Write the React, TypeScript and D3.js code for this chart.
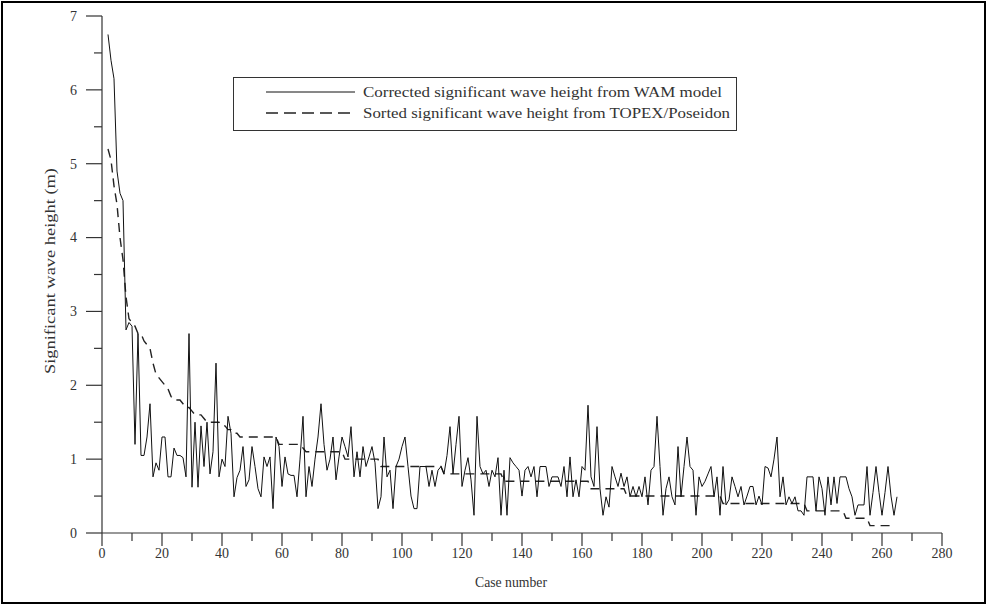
import React from "react";
import * as d3 from "d3";

// ---- DATA ----
const FIRST_CASE = 2;

// Corrected significant wave height from WAM model (cases 2..265)
const wamHeights: number[] = [
  6.75, 6.4, 6.15, 4.9, 4.6, 4.5, 2.75, 2.85, 2.8, 1.2,
  2.7, 1.05, 1.05, 1.3, 1.75, 0.76, 0.95, 0.85, 1.3, 1.3,
  0.76, 0.76, 1.15, 1.05, 1.05, 1.02, 0.76, 2.7, 0.62, 1.5,
  0.62, 1.45, 0.9, 1.5, 0.8, 1.1, 2.3, 0.76, 1.0, 0.9,
  1.58, 1.35, 0.49, 0.75, 0.85, 1.17, 0.63, 0.72, 1.17, 0.9,
  0.6, 0.49, 1.03, 0.9, 1.03, 0.33, 1.3, 1.17, 0.63, 1.03,
  0.8, 0.78, 0.78, 0.49, 1.0, 1.58, 0.49, 0.9, 0.63, 1.0,
  1.3, 1.75, 1.2, 0.85, 1.0, 1.3, 0.72, 1.03, 1.3, 1.17,
  1.03, 1.44, 0.76, 1.1, 0.76, 1.17, 0.9, 1.03, 1.17, 0.95,
  0.33, 0.49, 1.3, 0.76, 0.85, 0.33, 0.9, 1.0, 1.17, 1.3,
  0.9, 0.5, 0.33, 0.33, 0.9, 0.9, 0.9, 0.63, 0.85, 0.63,
  0.85, 0.9, 0.8, 1.05, 1.44, 0.8, 1.2, 1.58, 0.63, 0.85,
  1.02, 0.72, 0.24, 1.58, 0.9, 0.8, 0.85, 0.63, 0.85, 0.76,
  1.02, 0.24, 0.85, 0.24, 1.02, 0.95, 0.9, 0.85, 0.5, 0.85,
  0.9, 0.76, 0.9, 0.49, 0.9, 0.9, 0.9, 0.63, 0.76, 0.76,
  0.76, 0.63, 0.9, 0.49, 1.03, 0.49, 0.72, 0.49, 0.9, 0.85,
  1.73, 0.76, 0.63, 1.44, 0.6, 0.24, 0.49, 0.35, 0.9, 0.76,
  0.63, 0.81, 0.63, 0.76, 0.49, 0.63, 0.49, 0.63, 0.49, 0.76,
  0.38, 0.85, 0.9, 1.58, 0.9, 0.24, 0.6, 0.76, 0.49, 0.38,
  1.17, 0.49, 0.9, 1.3, 0.9, 0.85, 0.24, 0.76, 0.63, 0.7,
  0.8, 0.9, 0.49, 0.76, 0.24, 0.9, 0.38, 0.45, 0.76, 0.63,
  0.49, 0.63, 0.38, 0.5, 0.63, 0.63, 0.38, 0.5, 0.38, 0.9,
  0.88, 0.76, 1.0, 1.3, 0.49, 0.76, 0.38, 0.49, 0.4, 0.49,
  0.3, 0.3, 0.24, 0.76, 0.76, 0.76, 0.3, 0.76, 0.6, 0.24,
  0.76, 0.38, 0.76, 0.4, 0.76, 0.76, 0.76, 0.6, 0.49, 0.24,
  0.38, 0.38, 0.38, 0.9, 0.24, 0.55, 0.9, 0.55, 0.24, 0.55,
  0.9, 0.5, 0.24, 0.49,
];

// Sorted significant wave height from TOPEX/Poseidon (cases 2..264)
const topexHeights: number[] = [
  5.2, 5.05, 4.7, 4.45, 4.0, 3.7, 3.2, 2.9, 2.85, 2.8,
  2.7, 2.7, 2.6, 2.55, 2.5, 2.3, 2.15, 2.1, 2.05, 2.0,
  1.95, 1.85, 1.8, 1.8, 1.8, 1.75, 1.7, 1.7, 1.65, 1.6,
  1.6, 1.6, 1.55, 1.5, 1.5, 1.5, 1.5, 1.5, 1.45, 1.45,
  1.4, 1.4, 1.35, 1.35, 1.3, 1.3, 1.3, 1.3, 1.3, 1.3,
  1.3, 1.3, 1.3, 1.3, 1.3, 1.3, 1.3, 1.2, 1.2, 1.2,
  1.2, 1.2, 1.2, 1.2, 1.2, 1.15, 1.1, 1.1, 1.1, 1.1,
  1.1, 1.1, 1.1, 1.1, 1.1, 1.1, 1.1, 1.1, 1.1, 1.0,
  1.0, 1.0, 1.0, 1.0, 1.0, 1.0, 1.0, 1.0, 1.0, 1.0,
  1.0, 0.9, 0.9, 0.9, 0.9, 0.9, 0.9, 0.9, 0.9, 0.9,
  0.9, 0.9, 0.9, 0.9, 0.9, 0.9, 0.9, 0.9, 0.9, 0.9,
  0.9, 0.9, 0.8, 0.8, 0.8, 0.8, 0.8, 0.8, 0.8, 0.8,
  0.8, 0.8, 0.8, 0.8, 0.8, 0.8, 0.8, 0.8, 0.8, 0.8,
  0.8, 0.8, 0.7, 0.7, 0.7, 0.7, 0.7, 0.7, 0.7, 0.7,
  0.7, 0.7, 0.7, 0.7, 0.7, 0.7, 0.7, 0.7, 0.7, 0.7,
  0.7, 0.7, 0.7, 0.7, 0.7, 0.7, 0.7, 0.7, 0.7, 0.7,
  0.7, 0.6, 0.6, 0.6, 0.6, 0.6, 0.6, 0.6, 0.6, 0.6,
  0.6, 0.6, 0.6, 0.5, 0.5, 0.5, 0.5, 0.5, 0.5, 0.5,
  0.5, 0.5, 0.5, 0.5, 0.5, 0.5, 0.5, 0.5, 0.5, 0.5,
  0.5, 0.5, 0.5, 0.5, 0.5, 0.5, 0.5, 0.5, 0.5, 0.5,
  0.5, 0.5, 0.5, 0.5, 0.5, 0.4, 0.4, 0.4, 0.4, 0.4,
  0.4, 0.4, 0.4, 0.4, 0.4, 0.4, 0.4, 0.4, 0.4, 0.4,
  0.4, 0.4, 0.4, 0.4, 0.4, 0.4, 0.4, 0.4, 0.4, 0.4,
  0.4, 0.4, 0.4, 0.3, 0.3, 0.3, 0.3, 0.3, 0.3, 0.3,
  0.3, 0.3, 0.3, 0.3, 0.3, 0.3, 0.2, 0.2, 0.2, 0.2,
  0.2, 0.2, 0.2, 0.2, 0.1, 0.1, 0.1, 0.1, 0.1, 0.1,
  0.1, 0.1, 0.1,
];

const xTickValues: number[] = [0, 20, 40, 60, 80, 100, 120, 140, 160, 180, 200, 220, 240, 260, 280];
const xMinorTickValues: number[] = [10, 30, 50, 70, 90, 110, 130, 150, 170, 190, 210, 230, 250, 270];
const yTickValues: number[] = [0, 1, 2, 3, 4, 5, 6, 7];
const yMinorTickValues: number[] = [0.5, 1.5, 2.5, 3.5, 4.5, 5.5, 6.5];

const legendLabels: string[] = [
  "Corrected significant wave height from WAM model",
  "Sorted significant wave height from TOPEX/Poseidon",
];
const xTitle = "Case number";
const yTitle = "Significant wave height (m)";

// ---- CHART ----
const W = 987;
const H = 605;
const FONT = "'Liberation Serif', 'Times New Roman', serif";
const INK = "#333";

export default function App() {
  const x = d3.scaleLinear().domain([0, 280]).range([102, 942]);
  const y = d3.scaleLinear().domain([0, 7]).range([533, 16]);

  const line = d3
    .line<number>()
    .x((_, i) => x(FIRST_CASE + i))
    .y((d) => y(d));

  const wamPath = line(wamHeights) || "";
  const topexPath = line(topexHeights) || "";

  const x0 = x(0);
  const y0 = y(0);

  return (
    <div style={{ position: "fixed", left: 0, top: 0, width: W, height: H, background: "#fff" }}>
      <svg width={W} height={H} viewBox={`0 0 ${W} ${H}`} style={{ display: "block" }}>
        <rect x={0} y={0} width={W} height={H} fill="#fff" />
        <rect x={2} y={2} width={W - 4} height={H - 4} fill="none" stroke="#000" strokeWidth={2} />

        {/* axes */}
        <line x1={x0} y1={y(7)} x2={x0} y2={y0} stroke={INK} strokeWidth={1.2} />
        <line x1={x0} y1={y0} x2={x(280)} y2={y0} stroke={INK} strokeWidth={1.2} />

        {yTickValues.map((v) => (
          <g key={"yt" + v}>
            <line x1={x0 - 16} x2={x0} y1={y(v)} y2={y(v)} stroke={INK} strokeWidth={1.2} />
            <text x={77} y={y(v)} dy="0.35em" textAnchor="end" fontFamily={FONT} fontSize={14} fill={INK}>
              {v}
            </text>
          </g>
        ))}
        {yMinorTickValues.map((v) => (
          <line key={"ym" + v} x1={x0 - 8} x2={x0} y1={y(v)} y2={y(v)} stroke={INK} strokeWidth={1.2} />
        ))}
        {xTickValues.map((v) => (
          <g key={"xt" + v}>
            <line x1={x(v)} x2={x(v)} y1={y0} y2={y0 + 13} stroke={INK} strokeWidth={1.2} />
            <text x={x(v)} y={558} textAnchor="middle" fontFamily={FONT} fontSize={14} fill={INK}>
              {v}
            </text>
          </g>
        ))}
        {xMinorTickValues.map((v) => (
          <line key={"xm" + v} x1={x(v)} x2={x(v)} y1={y0} y2={y0 + 8} stroke={INK} strokeWidth={1.2} />
        ))}

        {/* titles */}
        <text x={511} y={587} textAnchor="middle" fontFamily={FONT} fontSize={14} fill={INK}
          textLength={72} lengthAdjust="spacingAndGlyphs">
          {xTitle}
        </text>
        <text transform="translate(55,271) rotate(-90)" textAnchor="middle" fontFamily={FONT} fontSize={14}
          fill={INK} textLength={206} lengthAdjust="spacingAndGlyphs">
          {yTitle}
        </text>

        {/* data */}
        <path d={topexPath} fill="none" stroke="#222" strokeWidth={1.4} strokeDasharray="9,6" />
        <path d={wamPath} fill="none" stroke="#111" strokeWidth={1} />

        {/* legend */}
        <rect x={233.5} y={77.5} width={503} height={53} fill="#fff" stroke={INK} strokeWidth={1} />
        <line x1={266} x2={355} y1={92} y2={92} stroke="#111" strokeWidth={1} />
        <line x1={266} x2={355} y1={113} y2={113} stroke="#222" strokeWidth={1.4} strokeDasharray="12,6" />
        <text x={363} y={96.5} fontFamily={FONT} fontSize={14} fill={INK} textLength={359} lengthAdjust="spacingAndGlyphs">
          {legendLabels[0]}
        </text>
        <text x={363} y={117.5} fontFamily={FONT} fontSize={14} fill={INK} textLength={367} lengthAdjust="spacingAndGlyphs">
          {legendLabels[1]}
        </text>
      </svg>
    </div>
  );
}
